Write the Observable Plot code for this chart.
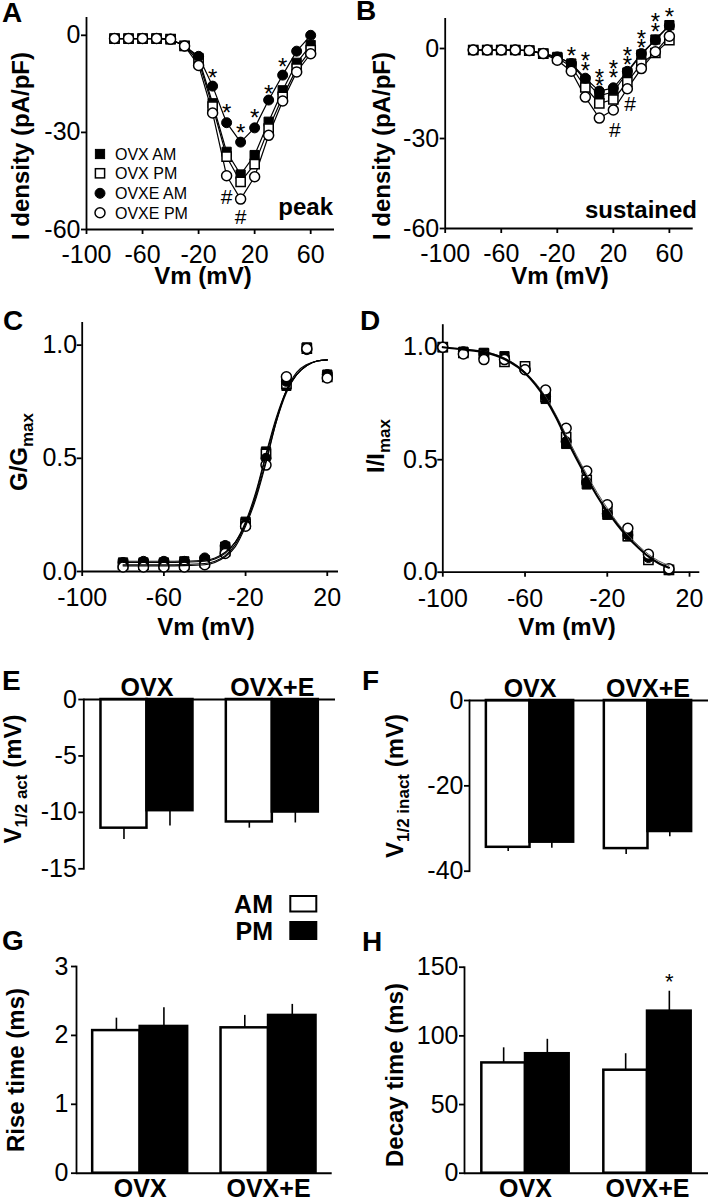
<!DOCTYPE html>
<html><head><meta charset="utf-8">
<script src="https://cdn.jsdelivr.net/npm/d3@7"></script>
<script src="https://cdn.jsdelivr.net/npm/@observablehq/plot@0.6"></script>
<style>
body{margin:0;background:#fff;}
#fig{position:relative;width:708px;height:1200px;background:#fff;overflow:hidden;}
#overlay{position:absolute;left:0;top:0;pointer-events:none;}
</style></head><body><div id="fig"></div>
<script>
// ---------------- DATA ----------------
const seriesNames = ["OVX AM", "OVX PM", "OVXE AM", "OVXE PM"];

// Panel A/B: I-V relations
const ivVolts = [-80,-70,-60,-50,-40,-30,-20,-10,0,10,20,30,40,50,60];
const peakOvxAM  = [-1,-1,-1,-1,-1.2,-3.3,-7,-21,-36,-43,-37,-26.7,-17,-8.5,-3];
const peakOvxPM  = [-1,-1,-1,-1,-1.2,-3.3,-8,-22,-37.5,-45.3,-39.8,-28.8,-19,-10.3,-4.6];
const peakOvxeAM = [-1,-1,-1,-1,-1.2,-3.3,-6.5,-15.7,-27,-33,-28.6,-20,-12.3,-4.9,0];
const peakOvxePM = [-1,-1,-1,-1,-1.2,-3.3,-9.3,-24,-43.4,-50.6,-43.7,-30.9,-20.3,-11.3,-5.7];

const susOvxAM  = [-0.5,-0.5,-0.5,-0.5,-0.7,-1.7,-2.8,-5,-10.6,-15.7,-14.5,-8,-2,3,7.8];
const susOvxPM  = [-0.5,-0.5,-0.5,-0.5,-0.7,-1.7,-3.2,-6,-13,-18.3,-17,-11.2,-5,-1.5,2.8];
const susOvxeAM = [-0.5,-0.5,-0.5,-0.5,-0.7,-1.7,-2.8,-5,-9.9,-14.2,-13.1,-7.6,-1.7,2.8,7.6];
const susOvxePM = [-0.5,-0.5,-0.5,-0.5,-0.7,-1.7,-3.9,-7.6,-16.2,-23.2,-20.5,-13.4,-6.7,-1.1,4.1];

const starVoltsA  = [-10, 0, 10, 20, 30, 40];
const starLevelsA = [-11.3, -22.3, -28.3, -23.7, -16.5, -8];
const hashVoltsA  = [0, 10];
const hashLevelsA = [-50, -56.1];

const starVoltsB  = [-10, 0, 0, 10, 10, 20, 20, 30, 30, 40, 40, 50, 50, 60];
const starLevelsB = [-0.6, -2.2, -5.6, -7.8, -10.6, -5, -7.8, -0.6, -3.7, 5, 1.9, 10.6, 7.5, 12.3];
const hashVoltsB  = [21, 32];
const hashLevelsB = [-27.4, -18.7];

// Panel C: activation
const gVolts  = [-80,-70,-60,-50,-40,-30,-20,-10,0,10,20];
const gOvxAM  = [0.04,0.04,0.04,0.045,0.05,0.11,0.22,0.53,0.82,0.99,0.87];
const gOvxPM  = [0.03,0.03,0.03,0.03,0.04,0.09,0.21,0.52,0.83,0.985,0.86];
const gOvxeAM = [0.04,0.045,0.045,0.045,0.06,0.115,0.21,0.5,0.84,0.98,0.87];
const gOvxePM = [0.02,0.02,0.02,0.02,0.03,0.08,0.2,0.47,0.86,0.985,0.855];
const gFitVolts  = [-80,-60,-50,-40,-35,-30,-25,-20,-15,-10,-5,0,5,10,15,20];
const gFitOvxAM  = [0.04,0.04,0.041,0.045,0.055,0.08,0.13,0.22,0.35,0.52,0.68,0.8,0.87,0.91,0.93,0.935];
const gFitOvxPM  = [0.03,0.03,0.031,0.035,0.045,0.07,0.12,0.21,0.34,0.51,0.67,0.8,0.87,0.91,0.93,0.935];
const gFitOvxeAM = [0.045,0.045,0.046,0.05,0.06,0.085,0.13,0.21,0.33,0.49,0.66,0.79,0.87,0.91,0.93,0.935];
const gFitOvxePM = [0.025,0.025,0.026,0.03,0.04,0.065,0.11,0.2,0.32,0.48,0.66,0.8,0.88,0.915,0.93,0.935];

// Panel D: inactivation
const iVolts  = [-100,-90,-80,-70,-60,-50,-40,-30,-20,-10,0,10];
const iOvxAM  = [1.0,0.98,0.975,0.96,0.91,0.77,0.57,0.39,0.255,0.16,0.06,0.01];
const iOvxPM  = [1.0,0.975,0.97,0.935,0.915,0.78,0.6,0.41,0.27,0.16,0.055,0.01];
const iOvxeAM = [1.0,0.98,0.97,0.955,0.9,0.78,0.58,0.4,0.26,0.165,0.065,0.01];
const iOvxePM = [1.0,0.97,0.945,0.945,0.9,0.81,0.64,0.45,0.3,0.195,0.08,0.015];
const iFitVolts = [-100,-90,-80,-70,-60,-50,-45,-40,-35,-30,-25,-20,-15,-10,-5,0,5,10];
const iFitMain  = [1.0,0.99,0.978,0.948,0.885,0.77,0.69,0.595,0.505,0.42,0.34,0.27,0.21,0.155,0.11,0.07,0.04,0.02];
const iFitAlt   = [1.0,0.99,0.98,0.952,0.89,0.78,0.70,0.61,0.52,0.435,0.355,0.285,0.22,0.165,0.12,0.08,0.05,0.03];

// Panels E-H: bar charts
const groups = ["OVX", "OVX+E"];
const actAM = [-11.4, -10.85],  actAMerr = [1.0, 0.55];
const actPM = [-9.85, -9.97],   actPMerr = [1.35, 0.97];
const inactAM = [-34.4, -34.7], inactAMerr = [1.0, 1.4];
const inactPM = [-33.2, -30.7], inactPMerr = [1.4, 1.2];
const riseAM = [2.07, 2.11], riseAMerr = [0.18, 0.18];
const risePM = [2.13, 2.29], risePMerr = [0.27, 0.16];
const decayAM = [80.3, 75], decayAMerr = [11, 12];
const decayPM = [87, 118],  decayPMerr = [10.5, 14.5];
const decayStarGroup = "OVX+E", decayStarLevel = 143;

// ---------------- HELPERS ----------------
const fig = document.getElementById("fig");
const FONT = '"Liberation Sans", Arial, Helvetica, sans-serif';
const baseStyle = {fontFamily: FONT, fontSize: "25px", color: "black", background: "transparent", overflow: "visible"};
const fmtInt = d => String(d);
const fmt1 = d3.format(".1f");
const seriesStyle = {
  "OVX AM":  {symbol: "square", fill: "black"},
  "OVX PM":  {symbol: "square", fill: "white"},
  "OVXE AM": {symbol: "circle", fill: "black"},
  "OVXE PM": {symbol: "circle", fill: "white"}
};
function place(node, left, top) {
  node.style.position = "absolute"; node.style.left = left + "px"; node.style.top = top + "px";
  fig.appendChild(node);
}
function tidy(volts, arrays) {
  const rows = [];
  seriesNames.forEach((s, i) => volts.forEach((v, j) => rows.push({s, v, y: arrays[i][j]})));
  return rows;
}
function pairs(xs, ys) { return xs.map((v, i) => ({v, y: ys[i]})); }
function pointMarks(rows) {
  return seriesNames.map(s => {
    const st = seriesStyle[s];
    return Plot.dot(rows.filter(d => d.s === s), {x: "v", y: "y", symbol: st.symbol,
      r: st.symbol === "square" ? 5.2 : 5, fill: st.fill, stroke: "black",
      strokeWidth: st.fill === "white" ? 1.5 : 1});
  });
}
function lineMarks(rows, sw, curve) {
  return seriesNames.map(s => Plot.line(rows.filter(d => d.s === s),
    {x: "v", y: "y", stroke: "black", strokeWidth: sw, curve: curve || "linear"}));
}
function linAxes(o) {
  return [
    Plot.ruleY([o.yDomain[0]], {stroke: "black", strokeWidth: 1.8}),
    Plot.ruleX([o.xDomain[0]], {stroke: "black", strokeWidth: 1.8}),
    Plot.axisX({ticks: o.xTicks, tickSize: 5, tickPadding: o.xPad, tickFormat: fmtInt, strokeWidth: 1.8, label: null}),
    Plot.axisY({ticks: o.yTicks, tickSize: 5, tickPadding: o.yPad, tickFormat: o.yFmt || fmtInt, strokeWidth: 1.8, label: null})
  ];
}
function bandWidth(width, ml, mr, n, pi, po) {
  const step = (width - ml - mr) / (n - pi + 2 * po);
  return step * (1 - pi);
}

// ---------------- PANEL A ----------------
{
  const rows = tidy(ivVolts, [peakOvxAM, peakOvxPM, peakOvxeAM, peakOvxePM]);
  const xDomain = [-100, 77], yDomain = [-60, 5.5];
  const p = Plot.plot({
    width: 354, height: 280, marginLeft: 86, marginRight: 20, marginTop: 17, marginBottom: 51,
    x: {domain: xDomain}, y: {domain: yDomain}, style: baseStyle,
    marks: [
      ...linAxes({xDomain, yDomain, xTicks: [-100,-60,-20,20,60], yTicks: [0,-30,-60], xPad: 11, yPad: 1}),
      ...lineMarks(rows, 1.2),
      ...pointMarks(rows),
      Plot.text(pairs(starVoltsA, starLevelsA), {x: "v", y: "y", text: () => "*", fontSize: 24, dy: 6}),
      Plot.text(pairs(hashVoltsA, hashLevelsA), {x: "v", y: "y", text: () => "#", fontSize: 21})
    ]
  });
  place(p, 0, 0);
}

// ---------------- PANEL B ----------------
{
  const rows = tidy(ivVolts, [susOvxAM, susOvxPM, susOvxeAM, susOvxePM]);
  const xDomain = [-100, 77], yDomain = [-60, 10];
  const p = Plot.plot({
    width: 354, height: 280, marginLeft: 90.7, marginRight: 15.3, marginTop: 18, marginBottom: 52,
    x: {domain: xDomain}, y: {domain: yDomain}, style: baseStyle,
    marks: [
      ...linAxes({xDomain, yDomain, xTicks: [-100,-60,-20,20,60], yTicks: [0,-30,-60], xPad: 11, yPad: 1}),
      ...lineMarks(rows, 1.2),
      ...pointMarks(rows),
      Plot.text(pairs(starVoltsB, starLevelsB), {x: "v", y: "y", text: () => "*", fontSize: 24, dy: 6}),
      Plot.text(pairs(hashVoltsB, hashLevelsB), {x: "v", y: "y", text: () => "#", fontSize: 21})
    ]
  });
  place(p, 354, 0);
}

// ---------------- PANEL C ----------------
{
  const rows = tidy(gVolts, [gOvxAM, gOvxPM, gOvxeAM, gOvxePM]);
  const fits = tidy(gFitVolts, [gFitOvxAM, gFitOvxPM, gFitOvxeAM, gFitOvxePM]);
  const xDomain = [-100, 25.5], yDomain = [0, 1.1];
  const p = Plot.plot({
    width: 354, height: 320, marginLeft: 81.7, marginRight: 16, marginTop: 32, marginBottom: 39,
    x: {domain: xDomain}, y: {domain: yDomain}, style: baseStyle,
    marks: [
      ...linAxes({xDomain, yDomain, xTicks: [-100,-60,-20,20], yTicks: [0,0.5,1], xPad: 12, yPad: 0, yFmt: fmt1}),
      ...pointMarks(rows),
      ...lineMarks(fits, 1.1, "monotone-x")
    ]
  });
  place(p, 0, 290);
}

// ---------------- PANEL D ----------------
{
  const rows = tidy(iVolts, [iOvxAM, iOvxPM, iOvxeAM, iOvxePM]);
  const fitRows = [
    ...iFitVolts.map((v, i) => ({k: "alt", v, y: iFitAlt[i]})),
    ...iFitVolts.map((v, i) => ({k: "main", v, y: iFitMain[i]}))
  ];
  const xDomain = [-100, 25], yDomain = [0, 1.1];
  const p = Plot.plot({
    width: 354, height: 320, marginLeft: 88.3, marginRight: 8.7, marginTop: 34.2, marginBottom: 38.3,
    x: {domain: xDomain}, y: {domain: yDomain}, style: baseStyle,
    marks: [
      ...linAxes({xDomain, yDomain, xTicks: [-100,-60,-20,20], yTicks: [0,0.5,1], xPad: 12, yPad: 0, yFmt: fmt1}),
      ...pointMarks(rows),
      Plot.line(fitRows.filter(d => d.k === "alt"), {x: "v", y: "y", stroke: "#555", strokeWidth: 1, curve: "monotone-x"}),
      Plot.line(fitRows.filter(d => d.k === "main"), {x: "v", y: "y", stroke: "black", strokeWidth: 2.2, curve: "monotone-x"})
    ]
  });
  place(p, 354, 290);
}

// ---------------- BAR PANELS ----------------
function barPanel(o) {
  const n = groups.length;
  const bw = bandWidth(o.width, o.marginLeft, o.marginRight, n, o.pi, o.po);
  const am = groups.map((g, i) => ({g, v: o.am[i], e: o.amErr[i]}));
  const pm = groups.map((g, i) => ({g, v: o.pm[i], e: o.pmErr[i]}));
  const dir = o.yDomain[0] < 0 ? -1 : 1;
  const marks = [
    Plot.ruleX(am, {x: "g", y1: "v", y2: d => d.v + dir * d.e, dx: -bw / 4, stroke: "black", strokeWidth: 1.6}),
    Plot.ruleX(pm, {x: "g", y1: "v", y2: d => d.v + dir * d.e, dx: bw / 4, stroke: "black", strokeWidth: 1.6}),
    Plot.barY(am, {x: "g", y1: 0, y2: "v", fill: "white", stroke: "black", strokeWidth: 2.5, insetRight: bw / 2}),
    Plot.barY(pm, {x: "g", y1: 0, y2: "v", fill: "black", stroke: "black", strokeWidth: 2.5, insetLeft: bw / 2}),
    Plot.ruleY([0], {stroke: "black", strokeWidth: 2}),
    Plot.frame({anchor: "left", stroke: "black", strokeWidth: 1.8}),
    Plot.axisY({ticks: o.yTicks, tickSize: 5, tickPadding: o.yPad, tickFormat: fmtInt, strokeWidth: 1.8, label: null}),
    Plot.axisX({anchor: o.xAnchor, tickSize: 0, tickPadding: o.xPad, fontWeight: "bold", fontSize: 25, label: null})
  ];
  if (o.star) marks.push(Plot.text([o.star], {x: "g", y: "y", text: () => "*", fontSize: 22, dy: 5, dx: bw / 4}));
  const p = Plot.plot({
    width: o.width, height: o.height, marginLeft: o.marginLeft, marginRight: o.marginRight,
    marginTop: o.marginTop, marginBottom: o.marginBottom,
    x: {type: "band", domain: groups, paddingInner: o.pi, paddingOuter: o.po, align: 0.5, round: false},
    y: {domain: o.yDomain}, style: baseStyle, marks
  });
  place(p, o.left, o.top);
}

barPanel({left: 0, top: 650, width: 354, height: 230, marginLeft: 83.3, marginRight: 19, marginTop: 49, marginBottom: 11.7,
  pi: 0.266, po: 0.137, yDomain: [-15, 0], yTicks: [0,-5,-10,-15], yPad: 2, xAnchor: "top", xPad: 4,
  am: actAM, amErr: actAMerr, pm: actPM, pmErr: actPMerr});
barPanel({left: 354, top: 650, width: 354, height: 230, marginLeft: 115, marginRight: 0, marginTop: 50, marginBottom: 9.3,
  pi: 0.26, po: 0.143, yDomain: [-40, 0], yTicks: [0,-20,-40], yPad: 1, xAnchor: "top", xPad: 4,
  am: inactAM, amErr: inactAMerr, pm: inactPM, pmErr: inactPMerr});
barPanel({left: 0, top: 880, width: 354, height: 320, marginLeft: 76, marginRight: 22.3, marginTop: 86, marginBottom: 27.3,
  pi: 0.26, po: 0.126, yDomain: [0, 3], yTicks: [0,1,2,3], yPad: 3, xAnchor: "bottom", xPad: 6,
  am: riseAM, amErr: riseAMerr, pm: risePM, pmErr: risePMerr});
barPanel({left: 354, top: 880, width: 354, height: 320, marginLeft: 110, marginRight: 0, marginTop: 86.7, marginBottom: 27.3,
  pi: 0.284, po: 0.142, yDomain: [0, 150], yTicks: [0,50,100,150], yPad: 1, xAnchor: "bottom", xPad: 6,
  am: decayAM, amErr: decayAMerr, pm: decayPM, pmErr: decayPMerr, star: {g: decayStarGroup, y: decayStarLevel}});

// ---------------- OVERLAY TEXT ----------------
const NS = "http://www.w3.org/2000/svg";
const ov = document.createElementNS(NS, "svg");
ov.setAttribute("width", 708); ov.setAttribute("height", 1200); ov.id = "overlay";
ov.style.fontFamily = FONT;
function addText(x, y, parts, opt = {}) {
  const t = document.createElementNS(NS, "text");
  t.setAttribute("text-anchor", opt.anchor || "start");
  t.setAttribute("font-size", opt.size || 24);
  t.setAttribute("font-weight", opt.weight || "bold");
  t.setAttribute("fill", "black");
  if (opt.rotate) t.setAttribute("transform", `translate(${x},${y}) rotate(-90)`);
  else { t.setAttribute("x", x); t.setAttribute("y", y); }
  let shift = 0;
  for (const part of parts) {
    const s = document.createElementNS(NS, "tspan");
    const txt = typeof part === "string" ? part : part.sub;
    const isSub = typeof part !== "string";
    const target = isSub ? 6 : 0;
    if (target !== shift) { s.setAttribute("dy", target - shift); shift = target; }
    if (isSub) s.setAttribute("font-size", 17);
    s.textContent = txt;
    t.appendChild(s);
  }
  ov.appendChild(t);
}
// panel letters
[["A",2,22],["B",356,20],["C",3,330],["D",360,330],["E",2,690],["F",362,690],["G",2,950],["H",362,951]]
  .forEach(([l, x, y]) => addText(x, y, [l], {size: 28}));
// x titles
[[203,284],[560,284],[206,635],[567,635]].forEach(([x, y]) => addText(x, y, ["Vm (mV)"], {anchor: "middle"}));
// y titles
addText(29, 146, ["I density (pA/pF)"], {anchor: "middle", rotate: true});
addText(390, 146, ["I density (pA/pF)"], {anchor: "middle", rotate: true});
addText(27, 452, ["G/G", {sub: "max"}], {anchor: "middle", rotate: true});
addText(384, 446, ["I/I", {sub: "max"}], {anchor: "middle", rotate: true});
addText(21, 779, ["V", {sub: "1/2 act"}, " (mV)"], {anchor: "middle", rotate: true});
addText(403, 786, ["V", {sub: "1/2 inact"}, " (mV)"], {anchor: "middle", rotate: true});
addText(24, 1070, ["Rise time (ms)"], {anchor: "middle", rotate: true});
addText(403, 1075, ["Decay time (ms)"], {anchor: "middle", rotate: true});
// in-panel labels
addText(333, 215, ["peak"], {anchor: "end"});
addText(697, 218, ["sustained"], {anchor: "end"});
// legend A
const legendRows = [154, 173.3, 193.3, 212.7];
seriesNames.forEach((s, i) => {
  const st = seriesStyle[s], cy = legendRows[i];
  let m;
  if (st.symbol === "square") {
    m = document.createElementNS(NS, "rect");
    m.setAttribute("x", 100 - 4.6); m.setAttribute("y", cy - 4.6); m.setAttribute("width", 9.2); m.setAttribute("height", 9.2);
  } else {
    m = document.createElementNS(NS, "circle");
    m.setAttribute("cx", 100); m.setAttribute("cy", cy); m.setAttribute("r", 5);
  }
  m.setAttribute("fill", st.fill); m.setAttribute("stroke", "black"); m.setAttribute("stroke-width", st.fill === "white" ? 1.5 : 1);
  ov.appendChild(m);
  addText(115, cy + 6, [s], {size: 16, weight: "normal"});
});
// legend AM / PM
addText(273, 913, ["AM"], {anchor: "end", size: 25});
addText(273, 940, ["PM"], {anchor: "end", size: 25});
{
  const r1 = document.createElementNS(NS, "rect");
  r1.setAttribute("x", 290.3); r1.setAttribute("y", 896); r1.setAttribute("width", 26); r1.setAttribute("height", 15.5);
  r1.setAttribute("fill", "white"); r1.setAttribute("stroke", "black"); r1.setAttribute("stroke-width", 2);
  ov.appendChild(r1);
  const r2 = document.createElementNS(NS, "rect");
  r2.setAttribute("x", 289.3); r2.setAttribute("y", 921); r2.setAttribute("width", 28); r2.setAttribute("height", 19);
  r2.setAttribute("fill", "black");
  ov.appendChild(r2);
}
fig.appendChild(ov);
</script>
</body></html>
